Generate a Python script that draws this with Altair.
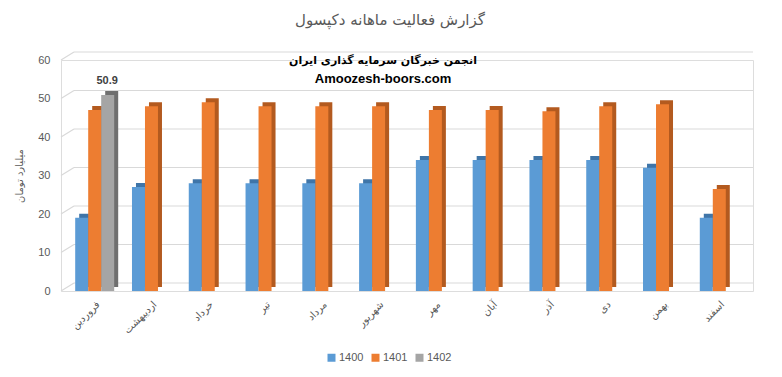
import altair as alt
import pandas as pd

months = ["فروردین", "اردیبهشت", "خرداد", "تیر", "مرداد", "شهریور",
          "مهر", "آبان", "آذر", "دی", "بهمن", "اسفند"]
years = ["1400", "1401", "1402"]
v1400 = [19, 27, 28, 28, 28, 28, 34, 34, 34, 34, 32, 19]
v1401 = [47, 48, 49, 48, 48, 48, 47, 47, 46.7, 48, 48.5, 26.5]
v1402 = [50.9]
y_ticks = [0, 10, 20, 30, 40, 50, 60]

colors = ["#5b9bd5", "#ed7d31", "#a5a5a5"]
dark_colors = ["#3f75a8", "#b35a1f", "#6f6f6f"]

rows = []
for m, v in zip(months, v1400):
    rows.append({"month": m, "year": "1400", "value": v})
for m, v in zip(months, v1401):
    rows.append({"month": m, "year": "1401", "value": v})
for m, v in zip(months, v1402):
    rows.append({"month": m, "year": "1402", "value": v})
df = pd.DataFrame(rows)
grid_df = pd.DataFrame({"value": y_ticks})

FONT = "DejaVu Sans"
GRAY = "#595959"
GRID = "#d9d9d9"

x_enc = alt.X("month:N", sort=months, title=None,
              scale=alt.Scale(paddingInner=0.313, paddingOuter=0.25),
              axis=alt.Axis(labelAngle=-45, labelColor=GRAY, labelFontSize=10,
                            labelFont=FONT, ticks=False, domain=False,
                            labelPadding=8))
y_enc = alt.Y("value:Q", title="میلیارد تومان",
              scale=alt.Scale(domain=[0, 60]),
              axis=alt.Axis(values=y_ticks, labelColor=GRAY,
                            labelFontSize=11, labelFont="Liberation Sans",
                            ticks=False, domain=False, grid=False,
                            labelPadding=11, titleColor=GRAY, titleFont=FONT,
                            titleFontSize=10, titleFontWeight="normal",
                            titlePadding=13))

grid_flat = alt.Chart(grid_df).mark_rule(color=GRID, strokeWidth=1.2, yOffset=-8, y2Offset=-8).encode(
    y=y_enc, y2=alt.Y2("value:Q"), x=alt.value(13), x2=alt.value(692))
grid_slant = alt.Chart(grid_df).mark_rule(color=GRID, strokeWidth=1.2, y2Offset=-8).encode(
    y=y_enc, y2=alt.Y2("value:Q"), x=alt.value(0), x2=alt.value(13))

base = alt.Chart(df)

back = base.mark_bar(yOffset=-4).encode(
    x=x_enc,
    xOffset=alt.XOffset("year:N", scale=alt.Scale(domain=years, range=[4, 43],
                                                  paddingInner=0, paddingOuter=0)),
    y=y_enc,
    color=alt.Color("year:N", scale=alt.Scale(domain=years, range=dark_colors), legend=None),
)

xo_front = alt.XOffset("year:N", scale=alt.Scale(domain=years, range=[0, 39],
                                                 paddingInner=0, paddingOuter=0))

front = base.mark_bar().encode(
    x=x_enc, xOffset=xo_front, y=y_enc,
    color=alt.Color("year:N", scale=alt.Scale(domain=years, range=colors),
                    legend=alt.Legend(title=None, orient="none", legendX=265, legendY=292,
                                      direction="horizontal", symbolType="square",
                                      symbolSize=64, symbolStrokeWidth=0,
                                      labelColor=GRAY, labelFontSize=11, labelOffset=2,
                                      labelFont="Liberation Sans", columnPadding=6)),
)

label = base.transform_filter(alt.datum.year == "1402").mark_text(
    baseline="bottom", dy=-9, dx=-7, fontWeight="bold", fontSize=11,
    color="#404040", font="Liberation Sans"
).encode(x=x_enc, xOffset=xo_front, y=y_enc, text=alt.Text("value:Q", format=".1f"))

title_df = pd.DataFrame({"t": ["گزارش فعالیت ماهانه دکپسول"]})
title = alt.Chart(title_df).mark_text(fontSize=15, color=GRAY, font=FONT).encode(
    text="t:N", x=alt.value(329), y=alt.value(-40))

wm_df = pd.DataFrame({"t": ["انجمن خبرگان سرمایه گذاری ایران"]})
wm1 = alt.Chart(wm_df).mark_text(fontSize=11, fontWeight="bold", color="#000000", font=FONT).encode(
    text="t:N", x=alt.value(322), y=alt.value(1))
wm2_df = pd.DataFrame({"t": ["Amoozesh-boors.com"]})
wm2 = alt.Chart(wm2_df).mark_text(fontSize=13, fontWeight="bold", color="#000000",
                                  font="Liberation Sans").encode(
    text="t:N", x=alt.value(322), y=alt.value(19))

chart = alt.layer(grid_flat, grid_slant, back, front, label, title, wm1, wm2).resolve_scale(
    color="independent", xOffset="independent"
).properties(
    width=692, height=231,
    padding={"left": 61, "top": 60, "right": 29, "bottom": 86},
    autosize="none",
).configure_view(stroke=None).configure(background="white")

chart.save("out.html", embed_options={"renderer": "svg", "actions": False})
